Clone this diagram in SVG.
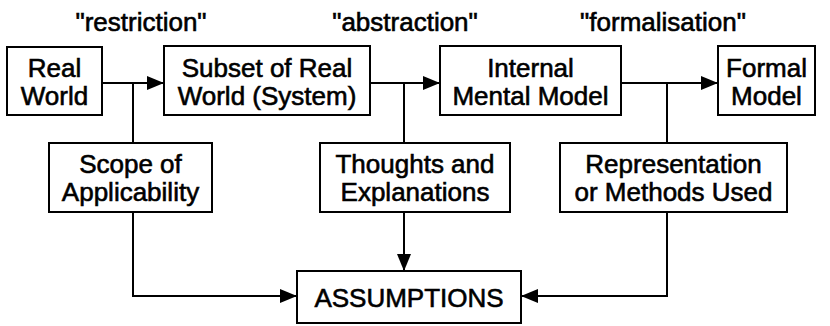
<svg xmlns="http://www.w3.org/2000/svg" width="830" height="326" viewBox="0 0 830 326">
  <style>
    .box { fill: #fff; stroke: #000; stroke-width: 2; }
    .lbl { font-family: "Liberation Sans", Arial, sans-serif; font-size: 26px; fill: #000; stroke: #000; stroke-width: 0.6; text-anchor: middle; }
    .wire { fill: none; stroke: #000; stroke-width: 2; }
  </style>
  <defs>
    <marker id="arrow" markerUnits="userSpaceOnUse" markerWidth="18" markerHeight="16" refX="17" refY="8" orient="auto">
      <path d="M0,1 L17,8 L0,15 Z" fill="#000"/>
    </marker>
  </defs>
  <rect width="830" height="326" fill="#fff"/>

  <!-- process labels -->
  <g id="labels">
    <text class="lbl" x="141" y="31">"restriction"</text>
    <text class="lbl" x="405" y="31">"abstraction"</text>
    <text class="lbl" x="663" y="31">"formalisation"</text>
  </g>

  <!-- connectors -->
  <g id="connectors">
    <line class="wire" x1="102" y1="83" x2="164" y2="83" marker-end="url(#arrow)"/>
    <line class="wire" x1="370" y1="83" x2="440" y2="83" marker-end="url(#arrow)"/>
    <line class="wire" x1="621" y1="83" x2="718" y2="83" marker-end="url(#arrow)"/>
    <line class="wire" x1="133" y1="83" x2="133" y2="143"/>
    <line class="wire" x1="404" y1="83" x2="404" y2="143"/>
    <line class="wire" x1="667" y1="83" x2="667" y2="143"/>
    <polyline class="wire" points="133,212 133,296 297,296" marker-end="url(#arrow)"/>
    <line class="wire" x1="404" y1="212" x2="404" y2="271" marker-end="url(#arrow)"/>
    <polyline class="wire" points="667,212 667,296 521,296" marker-end="url(#arrow)"/>
  </g>

  <g id="real-world">
    <rect class="box" x="7" y="47" width="95" height="68"/>
    <text class="lbl" x="54.5" y="77">Real</text>
    <text class="lbl" x="54.5" y="105">World</text>
  </g>
  <g id="subset">
    <rect class="box" x="164" y="46" width="206" height="69"/>
    <text class="lbl" x="267" y="77">Subset of Real</text>
    <text class="lbl" x="267" y="105">World (System)</text>
  </g>
  <g id="internal-model">
    <rect class="box" x="440" y="46" width="181" height="69"/>
    <text class="lbl" x="530.5" y="77">Internal</text>
    <text class="lbl" x="530.5" y="105">Mental Model</text>
  </g>
  <g id="formal-model">
    <rect class="box" x="718" y="46" width="97" height="69"/>
    <text class="lbl" x="766.5" y="77">Formal</text>
    <text class="lbl" x="766.5" y="105">Model</text>
  </g>
  <g id="scope">
    <rect class="box" x="49" y="143" width="163" height="69"/>
    <text class="lbl" x="130.5" y="173">Scope of</text>
    <text class="lbl" x="130.5" y="201">Applicability</text>
  </g>
  <g id="thoughts">
    <rect class="box" x="320" y="143" width="190" height="69"/>
    <text class="lbl" x="415" y="173">Thoughts and</text>
    <text class="lbl" x="415" y="201">Explanations</text>
  </g>
  <g id="representation">
    <rect class="box" x="560" y="143" width="227" height="69"/>
    <text class="lbl" x="673.5" y="173">Representation</text>
    <text class="lbl" x="673.5" y="201">or Methods Used</text>
  </g>
  <g id="assumptions">
    <rect class="box" x="297" y="271" width="224" height="52"/>
    <text class="lbl" x="409" y="307">ASSUMPTIONS</text>
  </g>
</svg>
